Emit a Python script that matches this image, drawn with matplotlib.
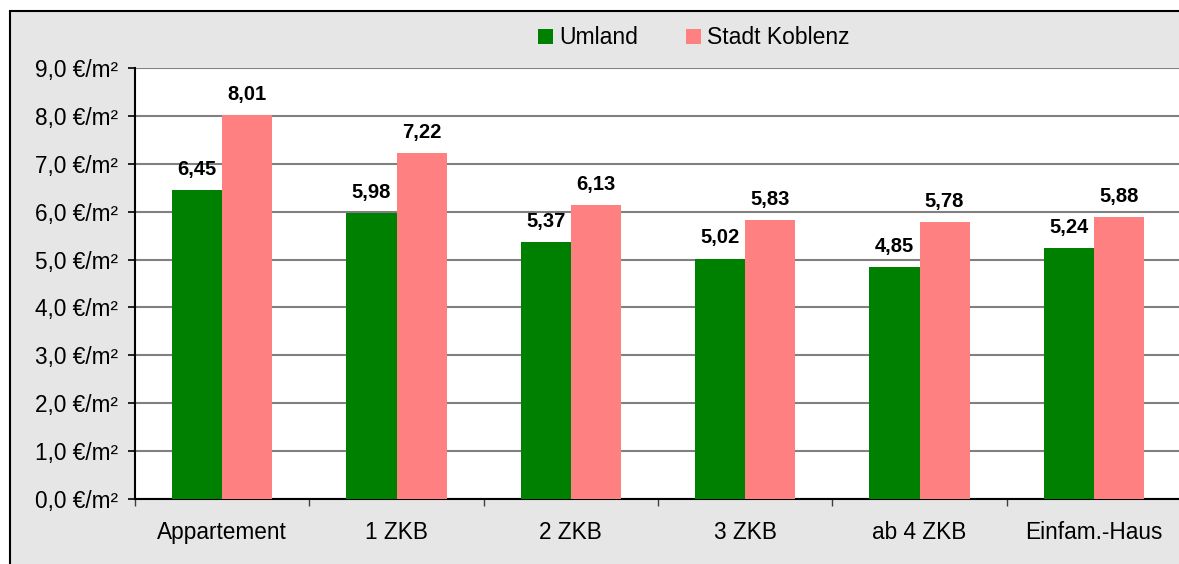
import numpy as np
import matplotlib.pyplot as plt
from matplotlib.patches import Rectangle
from matplotlib.ticker import FuncFormatter

categories = ["Appartement", "1 ZKB", "2 ZKB", "3 ZKB", "ab 4 ZKB", "Einfam.-Haus"]
umland = [6.45, 5.98, 5.37, 5.02, 4.85, 5.24]
koblenz = [8.01, 7.22, 6.13, 5.83, 5.78, 5.88]
series_names = ["Umland", "Stadt Koblenz"]

plt.rcParams["font.family"] = ["Liberation Sans", "DejaVu Sans"]

fig = plt.figure(figsize=(11.79, 5.64), dpi=100)
fig.patch.set_facecolor("white")

# grey chart area with black frame (runs off the right and bottom edge)
frame = Rectangle((10 / 1179, -0.05), 1.1, 0.05 + (564 - 11) / 564,
                  transform=fig.transFigure, facecolor="#e6e6e6",
                  edgecolor="black", linewidth=1.5, zorder=-1)
fig.patches.append(frame)

ax = fig.add_axes([135 / 1179, 1 - 499 / 564, (1181 - 135) / 1179, (499 - 68) / 564])
ax.set_facecolor("white")

x = np.arange(len(categories)) + 0.5
w = 0.287
b1 = ax.bar(x - w / 2, umland, w, color="#008000", label=series_names[0], zorder=3)
b2 = ax.bar(x + w / 2, koblenz, w, color="#ff8080", label=series_names[1], zorder=3)

for bars, vals in ((b1, umland), (b2, koblenz)):
    for r, v in zip(bars, vals):
        ax.annotate(f"{v:.2f}".replace(".", ","), (r.get_x() + r.get_width() / 2, v),
                    xytext=(0, 8), textcoords="offset points", ha="center", va="bottom",
                    fontsize=14.5, fontweight="bold", zorder=4)

ax.set_xlim(0, len(categories))
ax.set_ylim(0, 9)
ax.set_yticks(np.arange(0, 10, 1))
ax.yaxis.set_major_formatter(FuncFormatter(lambda v, p: f"{v:.1f}".replace(".", ",") + " €/m²"))
ax.grid(axis="y", color="#808080", linewidth=1.5, zorder=1)

ax.set_xticks(np.arange(0, len(categories) + 1))
ax.set_xticklabels([])
ax.set_xticks(x, minor=True)
ax.set_xticklabels(categories, minor=True)
ax.tick_params(axis="x", which="major", length=5, width=1, color="#404040")
ax.tick_params(axis="x", which="minor", length=0, pad=16, labelsize=16.3)
ax.tick_params(axis="y", length=5, width=1.2, pad=7, labelsize=16.3)

for s in ("top", "right"):
    ax.spines[s].set_visible(False)
ax.spines["left"].set_linewidth(1.5)
ax.spines["bottom"].set_linewidth(1.5)

fig.legend(handles=[b1, b2], loc="center", bbox_to_anchor=(694 / 1179, 1 - 38 / 564),
           ncol=2, frameon=False, fontsize=16.5, handlelength=0.65, handleheight=0.65,
           handletextpad=0.26, columnspacing=2.1, borderpad=0, borderaxespad=0)

fig.savefig("out.png", dpi=100, facecolor=fig.get_facecolor())
